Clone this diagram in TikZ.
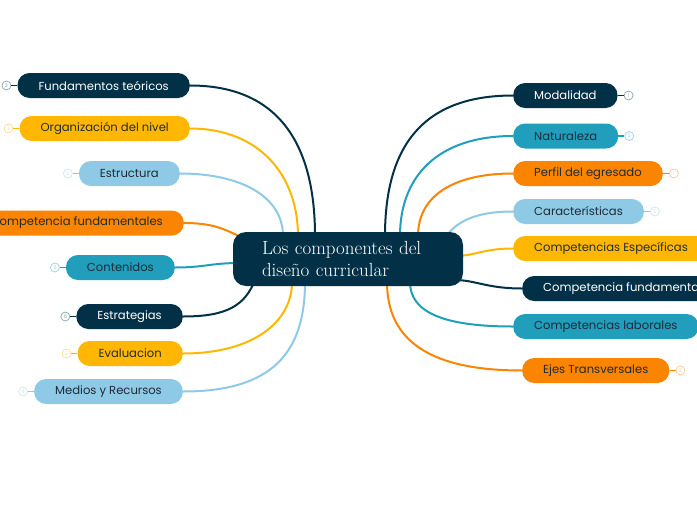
\documentclass[tikz,border=0pt]{standalone}
\usepackage{fontspec}
\newfontfamily\mapfont{Poppins}
\usepackage{xcolor}
\usepackage{tikz}
\usetikzlibrary{positioning,calc,backgrounds}

\definecolor{mmnavy}{HTML}{023047}
\definecolor{mmteal}{HTML}{219EBC}
\definecolor{mmsky}{HTML}{8ECAE6}
\definecolor{mmamber}{HTML}{FFB703}
\definecolor{mmorange}{HTML}{FB8500}
\definecolor{mmink}{HTML}{1E2B36}

\begin{document}
\begin{tikzpicture}[
    x=1pt,y=-1pt,
    topic/.style={rounded corners=12pt,minimum height=25pt,inner xsep=21pt,inner ysep=0pt,text=mmink,font=\mapfont\fontsize{11.6}{13}\selectfont},
    num/.style={circle,draw=#1!45,text=#1!45,fill=white,line width=0.7pt,minimum size=9pt,inner sep=0pt,font=\mapfont\fontsize{5}{5}\selectfont},
    link/.style={line width=2pt},
]
    \useasboundingbox (0,0) rectangle (697,520);

    \node[fill=mmnavy,rounded corners=13pt,minimum width=230pt,minimum height=54pt,text width=172pt,text=white,align=left,font=\fontsize{19}{22}\selectfont] (ctr) at (348,259) {Los componentes del\\diseño curricular};

    % left branches
    \node[topic,fill=mmnavy,text=white,anchor=east] (fund) at (190,85.5) {Fundamentos teóricos};
    \node[topic,fill=mmamber,anchor=east] (orga) at (190,128.5) {Organización del nivel};
    \node[topic,fill=mmsky,anchor=east] (estr) at (180,173.5) {Estructura};
    \node[topic,fill=mmorange,anchor=east] (cfun) at (184,223) {Competencia fundamentales};
    \node[topic,fill=mmteal,anchor=east] (cont) at (175,267.5) {Contenidos};
    \node[topic,fill=mmnavy,text=white,anchor=east] (estg) at (183,316.5) {Estrategias};
    \node[topic,fill=mmamber,anchor=east] (eval) at (183,353.5) {Evaluacion};
    \node[topic,fill=mmsky,anchor=east] (medi) at (183,391.5) {Medios y Recursos};

    % right branches
    \node[topic,fill=mmnavy,text=white,anchor=west] (moda) at (513,95.5) {Modalidad};
    \node[topic,fill=mmteal,anchor=west] (natu) at (513,136) {Naturaleza};
    \node[topic,fill=mmorange,anchor=west] (perf) at (513,173.5) {Perfil del egresado};
    \node[topic,fill=mmsky,anchor=west] (cara) at (513,211.5) {Características};
    \node[topic,fill=mmamber,anchor=west] (cesp) at (513,248.5) {Competencias Específicas};
    \node[topic,fill=mmnavy,text=white,anchor=west] (cfme) at (522,288.5) {Competencia fundamental};
    \node[topic,fill=mmteal,anchor=west] (clab) at (513,326.5) {Competencias laborales};
    \node[topic,fill=mmorange,anchor=west] (ejes) at (522,370.5) {Ejes Transversales};

    % count badges
    \foreach \t/\k/\c in {fund/3/mmnavy,orga/2/mmamber,estr/6/mmsky,cont/3/mmteal,estg/6/mmnavy,eval/2/mmamber,medi/4/mmsky}{
        \node[num=\c,left=6pt of \t] (\t n) {\k};
        \draw[\c,line width=1.2pt] (\t n) -- (\t);
    }
    \foreach \t/\k/\c in {moda/1/mmnavy,natu/3/mmteal,perf/1/mmorange,cara/5/mmsky,ejes/3/mmorange}{
        \node[num=\c,right=6pt of \t] (\t n) {\k};
        \draw[\c,line width=1.2pt] (\t n) -- (\t);
    }

    \begin{scope}[on background layer]
        \fill[white] (0,0) rectangle (697,520);
        \draw[link,mmnavy] (fund.east) .. controls +(90,0) and +(0,-90) .. ($(ctr.center)+(-33,-23)$);
        \draw[link,mmamber] (orga.east) .. controls +(70,0) and +(0,-60) .. ($(ctr.center)+(-50,-23)$);
        \draw[link,mmsky] (estr.east) .. controls +(60,0) and +(0,-40) .. ($(ctr.center)+(-65,-23)$);
        \draw[link,mmorange] (cfun.east) .. controls +(35,0) and +(-20,-8) .. ($(ctr.center)+(-100,-19)$);
        \draw[link,mmteal] (cont.east) .. controls +(30,0) and +(-30,0) .. ($(ctr.center)+(-108,4)$);
        \draw[link,mmnavy] (estg.east) .. controls +(45,0) and +(-10,25) .. ($(ctr.center)+(-93,21)$);
        \draw[link,mmamber] (eval.east) .. controls +(70,0) and +(0,40) .. ($(ctr.center)+(-56,23)$);
        \draw[link,mmsky] (medi.east) .. controls +(90,0) and +(0,70) .. ($(ctr.center)+(-43,23)$);

        \draw[link,mmnavy] (moda.west) .. controls +(-90,0) and +(0,-90) .. ($(ctr.center)+(37,-23)$);
        \draw[link,mmteal] (natu.west) .. controls +(-75,0) and +(0,-60) .. ($(ctr.center)+(52,-23)$);
        \draw[link,mmorange] (perf.west) .. controls +(-60,0) and +(0,-40) .. ($(ctr.center)+(70,-23)$);
        \draw[link,mmsky] (cara.west) .. controls +(-40,0) and +(10,-15) .. ($(ctr.center)+(97,-21)$);
        \draw[link,mmamber] (cesp.west) .. controls +(-30,0) and +(20,0) .. ($(ctr.center)+(107,-3)$);
        \draw[link,mmnavy] (cfme.west) .. controls +(-35,0) and +(20,0) .. ($(ctr.center)+(107,21)$);
        \draw[link,mmteal] (clab.west) .. controls +(-70,0) and +(0,30) .. ($(ctr.center)+(62,23)$);
        \draw[link,mmorange] (ejes.west) .. controls +(-90,0) and +(0,60) .. ($(ctr.center)+(39,23)$);
    \end{scope}
\end{tikzpicture}
\end{document}
